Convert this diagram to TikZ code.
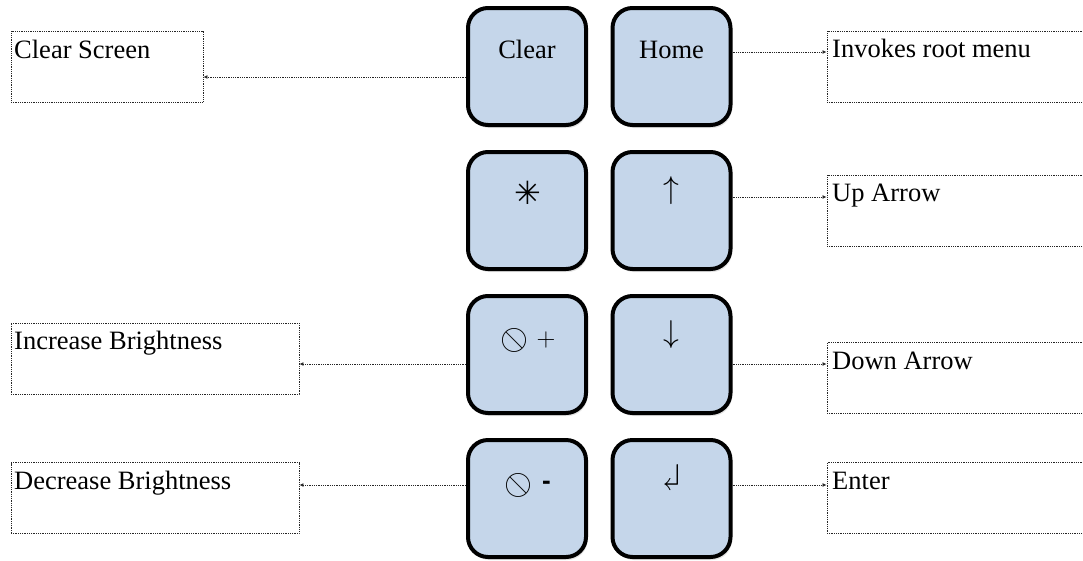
\documentclass[tikz,border=0pt]{standalone}
\usepackage{amssymb}
\usepackage{fontspec}
\usepackage{graphicx}
\setmainfont{Liberation Serif}
\newfontfamily\symfont{DejaVu Sans}
\newfontfamily\sansfnt{Liberation Sans}
\usetikzlibrary{arrows.meta,shadows}
\definecolor{keyblue}{RGB}{197,214,234}
\begin{document}
\begin{tikzpicture}[x=1pt,y=-1pt,
  key/.style={draw=black, line width=4pt, fill=keyblue, rounded corners=20pt,
    minimum width=118pt, minimum height=117pt, inner sep=0pt,
    drop shadow={shadow xshift=1.5pt, shadow yshift=-3pt, opacity=0.22}},
  keytext/.style={font=\fontsize{26.5}{30}\selectfont, anchor=base, inner sep=0pt},
  symtext/.style={font=\fontsize{24.88}{30}\selectfont, anchor=center, inner sep=0pt},
  descbox/.style={draw=black!85, line width=0.9pt, dash pattern=on 0.9pt off 0.9pt,
    minimum height=71pt, inner sep=0pt},
  desctext/.style={font=\fontsize{26.5}{30}\selectfont, anchor=base west, inner sep=0pt},
  conn/.style={draw=black!85, line width=0.9pt, dash pattern=on 0.9pt off 0.9pt,
    -{Latex[length=4pt,width=4pt]}}
]
\useasboundingbox (0,0) rectangle (1083,560);
\clip (0,0) rectangle (1083,560);

% description boxes
\node[descbox, minimum width=192pt] (cs)  at (107,66.5) {};
\node[descbox, minimum width=288pt] (inc) at (155,358.5) {};
\node[descbox, minimum width=288pt] (dec) at (155,498) {};
\node[descbox, minimum width=273pt] (irm) at (963.5,66.5) {};
\node[descbox, minimum width=273pt] (ua)  at (963.5,210.5) {};
\node[descbox, minimum width=273pt] (da)  at (963.5,378) {};
\node[descbox, minimum width=273pt] (en)  at (963.5,498) {};

\node[desctext] (csT)  at (14,58)  {Clear Screen};
\node[desctext] (incT) at (14,349) {Increase Brightness};
\node[desctext] (decT) at (14,489) {Decrease Brightness};
\node[desctext] (irmT) at (832,57) {Invokes root menu};
\node[desctext] (uaT)  at (832,201) {Up Arrow};
\node[desctext] (daT)  at (832,369) {Down Arrow};
\node[desctext] (enT)  at (832,489) {Enter};

% keys
\node[key] (kclear) at (527,66.5) {};
\node[key] (khome)  at (671.5,66.5) {};
\node[key] (kstar)  at (527,210.5) {};
\node[key] (kup)    at (671.5,210.5) {};
\node[key] (kinc)   at (527,354.5) {};
\node[key] (kdown)  at (671.5,354.5) {};
\node[key] (kdec)   at (527,498.5) {};
\node[key] (kenter) at (671.5,498.5) {};

% key labels
\node[keytext] (tclear) at (527,58) {Clear};
\node[keytext] (thome)  at (671.5,58) {Home};
\node[symtext, font=\symfont\fontsize{32}{36}\selectfont] (tstar) at (527.5,192.5) {✳};
\node[symtext] (tup)    at (671.5,191) {\scalebox{1.27}{$\uparrow$}};
\node[symtext] (tinc1)  at (514.5,340) {\scalebox{1.45}{\reflectbox{$\oslash$}}};
\node[symtext] (tinc2) at (546,340) {\scalebox{1.05}{$+$}};
\node[symtext] (tdown)  at (671.5,335) {\scalebox{1.27}{$\downarrow$}};
\node[symtext] (tdec1)  at (518.5,485) {\scalebox{1.45}{\reflectbox{$\oslash$}}};
\node[font=\sansfnt\bfseries\fontsize{26}{30}\selectfont, anchor=center, inner sep=0pt] (tdec2) at (546.5,485) {-};
\node[symtext] (tenter) at (671.5,477) {\scalebox{1.45}{\rotatebox[origin=c]{180}{$\Rsh$}}};

% connectors
\draw[conn] (kclear.west |- 0,77) -- (cs.east |- 0,77);
\draw[conn] (kinc.west |- 0,364) -- (inc.east |- 0,364);
\draw[conn] (kdec.west |- 0,485) -- (dec.east |- 0,485);
\draw[conn] (khome.east |- 0,52) -- (irm.west |- 0,52);
\draw[conn] (kup.east |- 0,197) -- (ua.west |- 0,197);
\draw[conn] (kdown.east |- 0,364) -- (da.west |- 0,364);
\draw[conn] (kenter.east |- 0,485) -- (en.west |- 0,485);
\end{tikzpicture}
\end{document}
